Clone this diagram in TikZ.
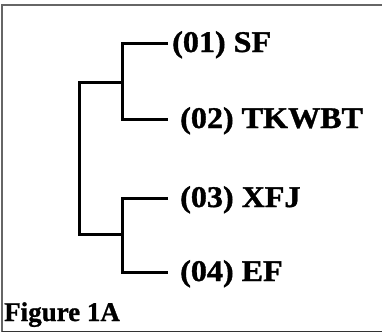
\documentclass[tikz,border=0pt]{standalone}
\usepackage{fontspec}
\setmainfont{Liberation Serif}
\begin{document}
\begin{tikzpicture}[x=1pt,y=-1pt,
  branch/.style={line width=3pt, black},
  frameline/.style={line width=1.5pt, color=black!60},
  taxon/.style={anchor=base west, inner sep=0pt,
    font=\fontsize{30}{30}\selectfont\bfseries\addfontfeature{FakeStretch=1.07,FakeBold=1.2}},
  caption/.style={anchor=base west, inner sep=0pt,
    font=\fontsize{27}{27}\selectfont\bfseries\addfontfeature{FakeBold=1}}]
  \useasboundingbox (0,0) rectangle (382,333);
  % outer frame (right edge lies past the page)
  \draw[frameline] (384,4.8) -- (1.8,4.8) -- (1.8,331.5);
  \draw[frameline, color=black!80] (1.8,331.5) -- (384,331.5);
  % leaf tips
  \coordinate (e1) at (168,43);
  \coordinate (e2) at (168,119);
  \coordinate (e3) at (168,198);
  \coordinate (e4) at (168,272);
  % internal nodes
  \coordinate (c1) at (122,82);
  \coordinate (c2) at (122,234);
  \coordinate (r) at (79,158);
  % branches
  \draw[branch] (e1) -| (c1) |- (e2);
  \draw[branch] (e3) -| (c2) |- (e4);
  \draw[branch] (c1) -| (r) |- (c2);
  % taxon labels
  \node[taxon] (t1) at (172,52) {(01) SF};
  \node[taxon] (t2) at (180,128) {(02) TKWBT};
  \node[taxon] (t3) at (180,207) {(03) XFJ};
  \node[taxon] (t4) at (180,281) {(04) EF};
  \node[caption] (cap) at (4,321) {Figure 1A};
\end{tikzpicture}
\end{document}
